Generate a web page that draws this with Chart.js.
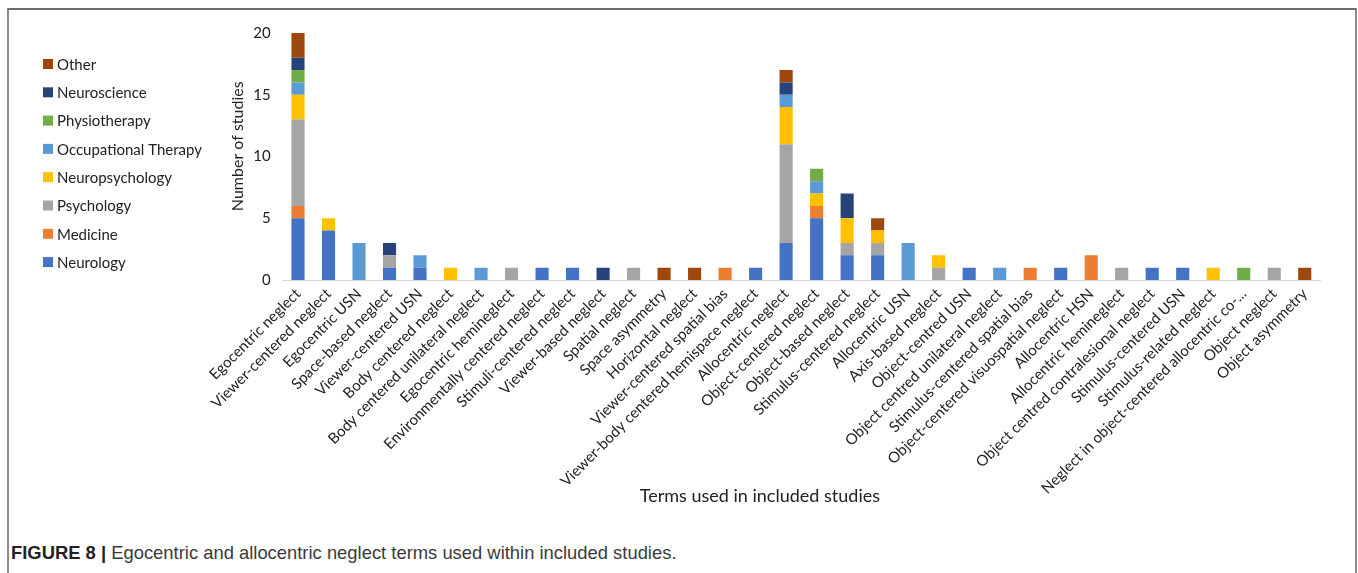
<!DOCTYPE html>
<html>
<head>
<meta charset="utf-8">
<script src="https://cdn.jsdelivr.net/npm/chart.js@4.4.1/dist/chart.umd.min.js"></script>
<style>
  html, body { margin: 0; padding: 0; background: #fff; width: 1358px; height: 573px; overflow: hidden; }
  #frame { position: absolute; left: 7px; top: 8px; width: 1346px; height: 600px; border-top: 2px solid #6b6b6b; border-left: 2px solid #8a8a8a; border-right: 2px solid #8a8a8a; }
  #wrap { position: absolute; left: 8px; top: 10px; width: 1346px; height: 505px; }
  #caption { position: absolute; left: 11px; top: 542px; font-family: "Liberation Sans", Arial, sans-serif; font-size: 18.4px; color: #3a3a3a; white-space: nowrap; }
  #caption b { color: #222; }
</style>
</head>
<body>
<div id="frame"></div>
<div id="wrap"><canvas id="c" width="1346" height="505"></canvas></div>
<div id="caption"><b>FIGURE 8 |</b> Egocentric and allocentric neglect terms used within included studies.</div>
<script>
const categories = [
  "Egocentric neglect", "Viewer-centered neglect", "Egocentric USN", "Space-based neglect",
  "Viewer-centered USN", "Body centered neglect", "Body centered unilateral neglect",
  "Egocentric hemineglect", "Environmentally centered neglect", "Stimuli-centered neglect",
  "Viewer-based neglect", "Spatial neglect", "Space asymmetry", "Horizontal neglect",
  "Viewer-centered spatial bias", "Viewer-body centered hemispace neglect", "Allocentric neglect",
  "Object-centered neglect", "Object-based neglect", "Stimulus-centered neglect", "Allocentric USN",
  "Axis-based neglect", "Object-centred USN", "Object centred unilateral neglect",
  "Stimulus-centered spatial bias", "Object-centered visuospatial neglect", "Allocentric HSN",
  "Allocentric hemineglect", "Object centred contralesional neglect", "Stimulus-centered USN",
  "Stimulus-related neglect", "Neglect in object-centered allocentric co-...", "Object neglect",
  "Object asymmetry"
];

const neurology         = [5,4,0,1,1,0,0,0,1,1,0,0,0,0,0,1,3,5,2,2,0,0,1,0,0,1,0,0,1,1,0,0,0,0];
const medicine          = [1,0,0,0,0,0,0,0,0,0,0,0,0,0,1,0,0,1,0,0,0,0,0,0,1,0,2,0,0,0,0,0,0,0];
const psychology        = [7,0,0,1,0,0,0,1,0,0,0,1,0,0,0,0,8,0,1,1,0,1,0,0,0,0,0,1,0,0,0,0,1,0];
const neuropsychology   = [2,1,0,0,0,1,0,0,0,0,0,0,0,0,0,0,3,1,2,1,0,1,0,0,0,0,0,0,0,0,1,0,0,0];
const occupationalTherapy = [1,0,3,0,1,0,1,0,0,0,0,0,0,0,0,0,1,1,0,0,3,0,0,1,0,0,0,0,0,0,0,0,0,0];
const physiotherapy     = [1,0,0,0,0,0,0,0,0,0,0,0,0,0,0,0,0,1,0,0,0,0,0,0,0,0,0,0,0,0,0,1,0,0];
const neuroscience      = [1,0,0,1,0,0,0,0,0,0,1,0,0,0,0,0,1,0,2,0,0,0,0,0,0,0,0,0,0,0,0,0,0,0];
const other             = [2,0,0,0,0,0,0,0,0,0,0,0,1,1,0,0,1,0,0,1,0,0,0,0,0,0,0,0,0,0,0,0,0,1];

const seriesNames = ["Neurology","Medicine","Psychology","Neuropsychology","Occupational Therapy","Physiotherapy","Neuroscience","Other"];
const seriesValues = [neurology, medicine, psychology, neuropsychology, occupationalTherapy, physiotherapy, neuroscience, other];
const seriesColors = ["#4472C4","#ED7D31","#A5A5A5","#FFC000","#5B9BD5","#70AD47","#264478","#9E480E"];
const yTicks = [0, 5, 10, 15, 20];

const FONT = "Lato, 'Open Sans', sans-serif";
const NB = '\u00a0';

const legendPlugin = {
  id: 'sideLegend',
  afterDraw(chart) {
    const ctx = chart.ctx;
    const ds = chart.data.datasets;
    ctx.save();
    ctx.font = "15px " + FONT;
    ctx.textBaseline = 'middle';
    ctx.textAlign = 'left';
    const x0 = 35, y0 = 54, step = 28.3;
    for (let i = ds.length - 1, k = 0; i >= 0; i--, k++) {
      const y = y0 + k * step;
      ctx.fillStyle = ds[i].backgroundColor;
      ctx.fillRect(x0, y - 5, 10, 10);
      ctx.fillStyle = '#222';
      ctx.fillText(ds[i].label, x0 + 14, y + 1);
    }
    ctx.restore();
  }
};

new Chart(document.getElementById('c'), {
  type: 'bar',
  data: {
    labels: categories,
    datasets: seriesNames.map((n, i) => ({
      label: n,
      data: seriesValues[i],
      backgroundColor: seriesColors[i],
      borderWidth: 0,
      categoryPercentage: 1,
      barPercentage: 0.43
    }))
  },
  options: {
    responsive: false,
    animation: false,
    layout: { padding: { left: 214.75, right: 34, top: 23, bottom: 0 } },
    plugins: { legend: { display: false }, tooltip: { enabled: false } },
    scales: {
      x: {
        stacked: true,
        grid: { display: false, drawTicks: false },
        border: { display: true, color: '#D9D9D9', width: 1 },
        ticks: { autoSkip: false, minRotation: 45, maxRotation: 45, padding: 5, color: '#222', font: { family: FONT, size: 15 } },
        title: { display: true, text: 'Terms used in included studies' + NB.repeat(18), color: '#222', font: { family: FONT, size: 18 }, padding: { top: 0, bottom: 8 } },
        afterFit(scale) { scale.height = 235; }
      },
      y: {
        stacked: true,
        min: 0, max: 20,
        afterBuildTicks(scale) { scale.ticks = yTicks.map(v => ({ value: v })); },
        grid: { display: false, drawTicks: false },
        border: { display: false },
        ticks: { padding: 12, color: '#222', font: { family: FONT, size: 15 } },
        title: { display: true, text: NB.repeat(5) + 'Number of studies', color: '#222', font: { family: FONT, size: 16 }, padding: { top: 5, bottom: 0 } },
        afterFit(scale) { scale.width = 60; }
      }
    }
  },
  plugins: [legendPlugin]
});
</script>
</body>
</html>
